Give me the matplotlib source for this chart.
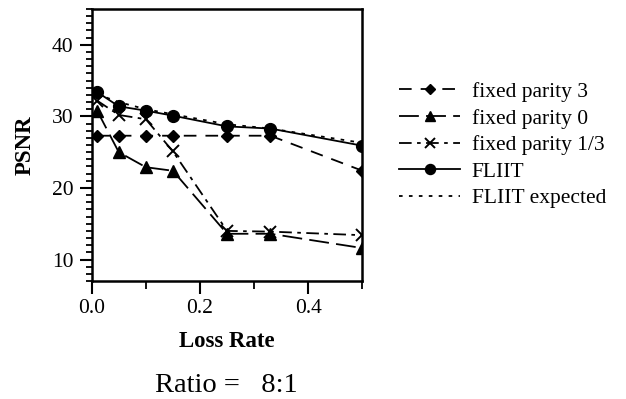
import matplotlib
matplotlib.use("Agg")
import matplotlib.pyplot as plt
from matplotlib.ticker import MultipleLocator

plt.rcParams["font.family"] = ["Liberation Serif", "DejaVu Serif"]

# loss rates used on the x axis
loss_rate = [0.01, 0.05, 0.1, 0.15, 0.25, 0.33, 0.5]

# PSNR values
fixed_parity_3 = [27.3, 27.3, 27.3, 27.3, 27.3, 27.3, 22.4]
fixed_parity_0 = [30.8, 25.0, 22.9, 22.4, 13.6, 13.6, 11.6]
fixed_parity_13 = [32.2, 30.2, 29.6, 25.1, 14.0, 13.9, 13.4]
fliit = [33.4, 31.4, 30.8, 30.1, 28.6, 28.3, 25.9]
fliit_expected = [33.1, 32.0, 31.0, 30.3, 28.9, 28.3, 26.3]

fig = plt.figure(figsize=(6.26, 3.99), dpi=100)
ax = fig.add_axes([0.1465, 0.2957, 0.4325, 0.6817])

ax.plot(loss_rate, fixed_parity_3, color="black", lw=1.3, dashes=(7, 5),
        marker="D", ms=6, label="fixed parity 3")
ax.plot(loss_rate, fixed_parity_0, color="black", lw=1.3, dashes=(11, 4),
        marker="^", ms=8.5, label="fixed parity 0")
ax.plot(loss_rate, fixed_parity_13, color="black", lw=1.3, dashes=(7, 3, 2, 3),
        marker="x", ms=8.5, mew=1.4, label="fixed parity 1/3")
ax.plot(loss_rate, fliit, color="black", lw=1.3, marker="o", ms=8.5,
        label="FLIIT", zorder=4)
ax.plot(loss_rate, fliit_expected, color="black", lw=1.3, dashes=(2, 3.5),
        label="FLIIT expected", zorder=3)

ax.set_xlim(0, 0.5)
ax.set_ylim(7, 45)
ax.xaxis.set_minor_locator(MultipleLocator(0.1))
ax.yaxis.set_major_locator(MultipleLocator(10))
ax.yaxis.set_minor_locator(MultipleLocator(1))
ax.set_xticks([0.0, 0.2, 0.4])
ax.set_xticklabels(["0.0", "0.2", "0.4"])
ax.tick_params(which="major", direction="out", length=9, width=1.5,
               labelsize=15.5, pad=4)
ax.tick_params(which="minor", direction="out", length=4, width=1.3)
ax.tick_params(axis="x", which="minor", length=6)
for s in ax.spines.values():
    s.set_linewidth(1.8)

ax.set_xlabel("Loss Rate", fontsize=16.5, fontweight="bold", labelpad=9)
ax.set_ylabel("PSNR", fontsize=16.5, fontweight="bold", labelpad=12)

ax.legend(loc="center left", bbox_to_anchor=(1.105, 0.5), frameon=False,
          fontsize=15.5, handlelength=2.8, handletextpad=0.55,
          labelspacing=0.3, borderaxespad=0, markerscale=0.85)

fig.text(226 / 626, 1 - 385 / 399, "Ratio =   8:1", fontsize=20.5,
         ha="center", va="center")

fig.savefig("out.png", dpi=100)
